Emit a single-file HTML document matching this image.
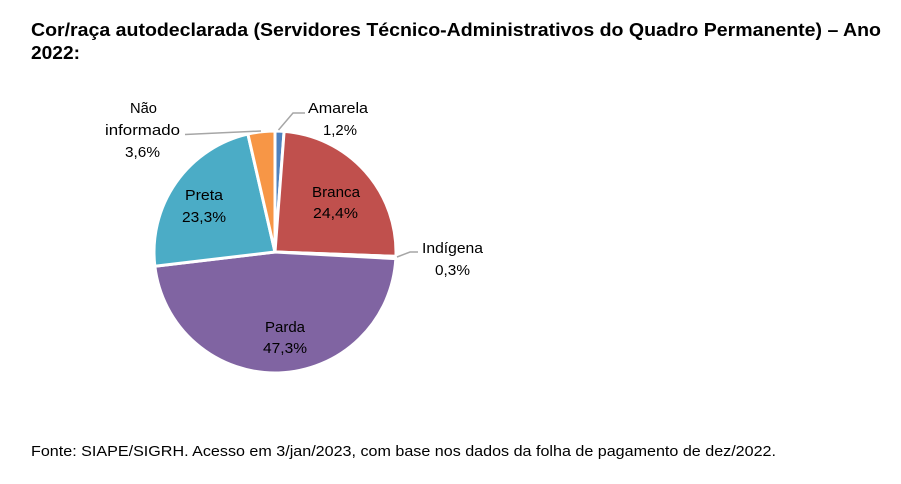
<!DOCTYPE html>
<html>
<head>
<meta charset="utf-8">
<style>
  html,body{margin:0;padding:0;background:#fff;}
  svg{display:block;}
  text{font-family:"Liberation Sans", Arial, sans-serif; fill:#000;}
</style>
</head>
<body>
<svg width="901" height="484" viewBox="0 0 901 484" xmlns="http://www.w3.org/2000/svg">
  <rect width="901" height="484" fill="#fff"/>
  <!-- Title -->
  <text x="31" y="36" font-size="18" font-weight="bold" textLength="850" lengthAdjust="spacingAndGlyphs">Cor/raça autodeclarada (Servidores Técnico-Administrativos do Quadro Permanente) – Ano</text>
  <text x="31" y="59" font-size="18" font-weight="bold" textLength="49" lengthAdjust="spacingAndGlyphs">2022:</text>

  <!-- Pie -->
  <g stroke="#fff" stroke-width="3" stroke-linejoin="round">
    <path d="M275,252 L275,131 A121,121 0 0 1 284.11,131.34 Z" fill="#4F81BD"/>
    <path d="M275,252 L284.11,131.34 A121,121 0 0 1 395.92,256.37 Z" fill="#C0504D"/>
    <path d="M275,252 L395.92,256.37 A121,121 0 0 1 395.82,258.64 Z" fill="#9BBB59"/>
    <path d="M275,252 L395.82,258.64 A121,121 0 0 1 154.84,266.21 Z" fill="#8064A2"/>
    <path d="M275,252 L154.84,266.21 A121,121 0 0 1 247.89,134.08 Z" fill="#4BACC6"/>
    <path d="M275,252 L247.89,134.08 A121,121 0 0 1 275,131 Z" fill="#F79646"/>
  </g>

  <!-- Leader lines -->
  <g stroke="#A6A6A6" stroke-width="1.5" fill="none">
    <polyline points="185,134.5 261,131"/>
    <polyline points="278.5,130 293,113 305,113"/>
    <polyline points="397,257 410,252 418,252"/>
  </g>

  <!-- Labels -->
  <g font-size="14.5" text-anchor="start">
    <text x="308" y="113" textLength="60" lengthAdjust="spacingAndGlyphs">Amarela</text>
    <text x="323" y="135" textLength="34" lengthAdjust="spacingAndGlyphs">1,2%</text>

    <text x="130" y="113" textLength="27" lengthAdjust="spacingAndGlyphs">Não</text>
    <text x="105" y="135" textLength="75" lengthAdjust="spacingAndGlyphs">informado</text>
    <text x="125" y="157" textLength="35" lengthAdjust="spacingAndGlyphs">3,6%</text>

    <text x="422" y="253" textLength="61" lengthAdjust="spacingAndGlyphs">Indígena</text>
    <text x="435" y="275" textLength="35" lengthAdjust="spacingAndGlyphs">0,3%</text>

    <text x="312" y="197" textLength="48" lengthAdjust="spacingAndGlyphs">Branca</text>
    <text x="313" y="218" textLength="45" lengthAdjust="spacingAndGlyphs">24,4%</text>

    <text x="185" y="200" textLength="38" lengthAdjust="spacingAndGlyphs">Preta</text>
    <text x="182" y="222" textLength="44" lengthAdjust="spacingAndGlyphs">23,3%</text>

    <text x="265" y="332" textLength="40" lengthAdjust="spacingAndGlyphs">Parda</text>
    <text x="263" y="353" textLength="44" lengthAdjust="spacingAndGlyphs">47,3%</text>
  </g>

  <!-- Footer -->
  <text x="31" y="456" font-size="14.5" textLength="745" lengthAdjust="spacingAndGlyphs">Fonte: SIAPE/SIGRH. Acesso em 3/jan/2023, com base nos dados da folha de pagamento de dez/2022.</text>
</svg>
</body>
</html>
